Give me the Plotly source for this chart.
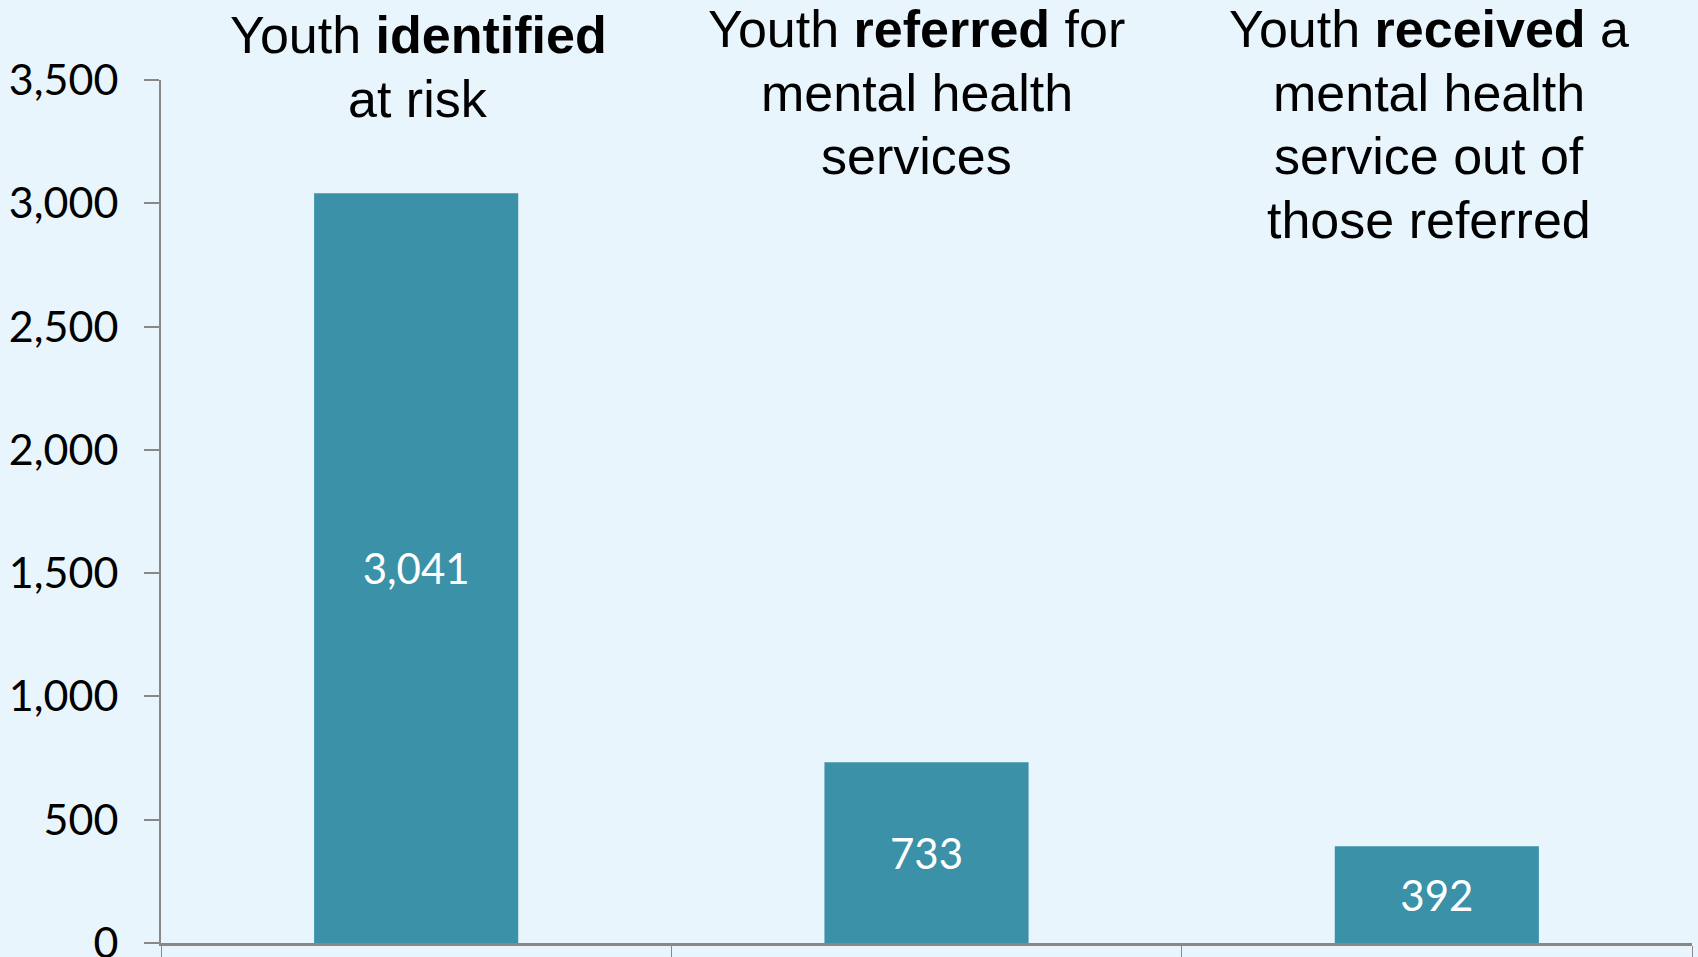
import plotly.graph_objects as go

categories = ["identified", "referred", "received"]
values = [3041, 733, 392]
label_lines = [
    ["Youth <b>identified</b>", "at risk"],
    ["Youth <b>referred</b> for", "mental health", "services"],
    ["Youth <b>received</b> a", "mental health", "service out of", "those referred"],
]
y_ticks = [0, 500, 1000, 1500, 2000, 2500, 3000, 3500]

BG = "#E9F5FD"
BAR = "#3A91A8"
AX = "#888888"

fig = go.Figure()
fig.add_trace(go.Bar(
    x=categories, y=values, width=0.40,
    marker=dict(color=BAR, line=dict(width=0)),
    texttemplate="%{y:,}", textposition="inside", insidetextanchor="middle",
    textangle=0, constraintext="none",
    insidetextfont=dict(family="Lato", size=42, color="white"),
    hoverinfo="skip",
))

# top category labels, one annotation per line
line_top = [35, 29, 29]      # pixel centre of first line
line_step = 63.5
x_shift = [2, -10, -8]
for i, lines in enumerate(label_lines):
    for j, txt in enumerate(lines):
        centre = line_top[i] + j * line_step
        fig.add_annotation(
            x=categories[i], xref="x", y=1, yref="paper",
            yshift=80 - centre, xshift=x_shift[i],
            text=txt, showarrow=False, xanchor="center", yanchor="middle",
            font=dict(family="Liberation Sans, Arial", size=52, color="black"),
        )

fig.update_layout(
    width=1698, height=957,
    margin=dict(l=161, r=6, t=80, b=14, pad=0, autoexpand=False),
    paper_bgcolor=BG, plot_bgcolor=BG,
    showlegend=False, bargap=0.6,
    xaxis=dict(
        type="category", showticklabels=False, showgrid=False, zeroline=False,
        automargin=False,
        showline=True, linecolor=AX, linewidth=3,
        ticks="outside", tickson="boundaries", ticklen=20, tickcolor=AX, tickwidth=1,
    ),
    yaxis=dict(
        range=[0, 3500], tickvals=y_ticks, tickformat=",",
        showgrid=False, zeroline=False, automargin=False,
        showline=True, linecolor=AX, linewidth=2,
        ticks="outside", ticklen=15, tickcolor=AX, tickwidth=2,
        ticklabelstandoff=17, ticklabeloverflow="allow",
        tickfont=dict(family="Lato", size=43, color="black"),
    ),
)

fig.write_html(
    "out.html",
    config={"displayModeBar": False, "staticPlot": True},
    post_script="document.body.style.margin='0';document.body.style.overflow='hidden';"
                "document.documentElement.style.background='" + BG + "';",
)
